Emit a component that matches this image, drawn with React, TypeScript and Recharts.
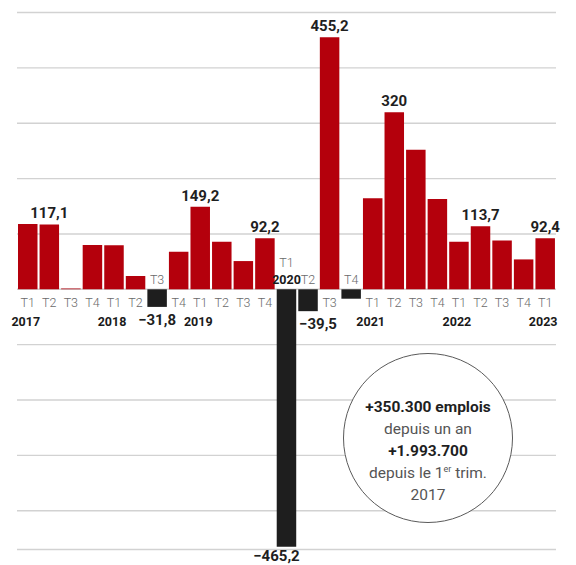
import { Bar, BarChart, CartesianGrid, Cell, LabelList, XAxis, YAxis } from "recharts";

// Création nette d'emplois salariés par trimestre (milliers)
const quarters = [
  "T1", "T2", "T3", "T4",
  "T1", "T2", "T3", "T4",
  "T1", "T2", "T3", "T4",
  "T1", "T2", "T3", "T4",
  "T1", "T2", "T3", "T4",
  "T1", "T2", "T3", "T4",
  "T1",
];
const years = [
  "2017", "", "", "",
  "2018", "", "", "",
  "2019", "", "", "",
  "2020", "", "", "",
  "2021", "", "", "",
  "2022", "", "", "",
  "2023",
];
const values = [
  118, 117.1, 1.5, 80,
  79.5, 24, -31.8, 68,
  149.2, 86, 51, 92.2,
  -465.2, -39.5, 455.2, -17,
  164.6, 320, 252, 163,
  86, 113.7, 88, 54,
  92.4,
];
// trimestres dont la valeur est affichée
const labelled = [1, 6, 8, 11, 12, 13, 14, 17, 21, 24];
const yTicks = [-400, -300, -200, -100, 0, 100, 200, 300, 400, 500];

const data = values.map((v, i) => ({ id: `${years[i] || i}-${quarters[i]}-${i}`, v }));

const RED = "#b4000c";
const DARK = "#1e1e1e";
const FONT = "Roboto, 'Noto Sans', sans-serif";

const fmt = (v: number) =>
  (v < 0 ? "\u2212" : "") + String(Math.abs(v)).replace(".", ",");

// petits décalages pour les étiquettes négatives collées aux grandes barres
const valueShift: Record<number, number> = { 12: -10, 13: 10 };

const renderLabels = (props: any) => {
  const { x, y, width, height, index } = props;
  const v = values[index];
  const top = Math.min(y, y + height);
  const bottom = Math.max(y, y + height);
  const cx = x + width / 2;
  const neg = v < 0;
  const zero = neg ? top : bottom;
  const year = years[index];
  const shift = valueShift[index] || 0;
  const valueY = neg ? Math.min(bottom + 18, 561) : top - 6;
  return (
    <g key={`lab-${index}`} fontFamily={FONT}>
      {neg ? (
        <>
          <text x={cx} y={year ? zero - 22 : zero - 5} textAnchor="middle" fontSize={12.5} fontWeight={300} fill="#6a6a6a">
            {quarters[index]}
          </text>
          {year && (
            <text x={cx} y={zero - 5} textAnchor="middle" fontSize={12.5} fontWeight={700} fill="#1a1a1a">
              {year}
            </text>
          )}
        </>
      ) : (
        <>
          <text x={cx} y={zero + 18} textAnchor="middle" fontSize={12.5} fontWeight={300} fill="#6a6a6a">
            {quarters[index]}
          </text>
          {year && (
            <text x={cx - 2} y={zero + 37} textAnchor="middle" fontSize={12.5} fontWeight={700} fill="#1a1a1a">
              {year}
            </text>
          )}
        </>
      )}
      {labelled.includes(index) && (
        <text
          x={cx + shift}
          y={valueY}
          textAnchor="middle"
          fontSize={15}
          fontWeight={700}
          fill="#1f1f1f"
        >
          {fmt(v)}
        </text>
      )}
    </g>
  );
};

export default function App() {
  return (
    <div style={{ position: "absolute", left: 0, top: 0, width: 576, height: 565, background: "#fff" }}>
      <BarChart
        width={576}
        height={565}
        data={data}
        margin={{ top: 12.5, right: 20, left: 17, bottom: 15.5 }}
        barSize={19.5}
      >
        <CartesianGrid vertical={false} stroke="#d2d2d2" strokeWidth={1.4} />
        <XAxis dataKey="id" hide />
        <YAxis hide domain={[-470, 500]} ticks={yTicks} allowDataOverflow />
        <Bar dataKey="v" isAnimationActive={false}>
          {values.map((v, i) => (
            <Cell key={i} fill={v < 0 ? DARK : RED} />
          ))}
          <LabelList dataKey="v" content={renderLabels} />
        </Bar>
      </BarChart>
      <div
        style={{
          position: "absolute",
          left: 343,
          top: 353,
          width: 170,
          height: 170,
          boxSizing: "border-box",
          borderRadius: "50%",
          border: "1.3px solid #5a5a5a",
          background: "#fff",
          fontFamily: FONT,
          fontSize: 15.5,
          lineHeight: "22px",
          textAlign: "center",
          color: "#555",
          paddingTop: 42,
        }}
      >
        <div style={{ fontWeight: 700, color: "#1f1f1f" }}>+350.300 emplois</div>
        <div>depuis un an</div>
        <div style={{ fontWeight: 700, color: "#1f1f1f" }}>+1.993.700</div>
        <div>
          depuis le 1
          <span style={{ fontSize: 9, position: "relative", top: -6, lineHeight: 0 }}>er</span> trim.
        </div>
        <div>2017</div>
      </div>
    </div>
  );
}
